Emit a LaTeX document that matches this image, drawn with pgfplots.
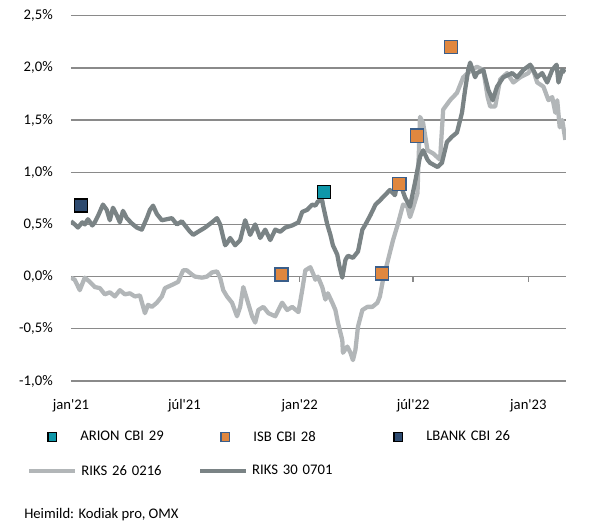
\documentclass[border=0pt]{standalone}
\usepackage{pgfplots}
\pgfplotsset{compat=1.18}
\usepackage{fontspec}
\setmainfont{Carlito}[Ligatures=TeXReset]
\definecolor{lightline}{HTML}{B2B6B8}
\definecolor{darkline}{HTML}{7A8385}
\definecolor{arion}{HTML}{0E97A9}
\definecolor{isb}{HTML}{E0873F}
\definecolor{isbedge}{HTML}{3A5E8A}
\definecolor{lbank}{HTML}{2E4B70}
\definecolor{gridc}{HTML}{8A8A8A}

\pgfplotstableread{
day val
0 -0.01
6 -0.03
14 -0.13
22 -0.01
30 -0.05
38 -0.10
46 -0.11
54 -0.17
62 -0.15
70 -0.19
78 -0.13
86 -0.17
94 -0.16
102 -0.19
110 -0.18
118 -0.35
123 -0.27
129 -0.29
137 -0.25
145 -0.19
150 -0.11
161 -0.08
171 -0.05
179 0.06
185 0.06
193 0.02
198 0.00
209 -0.01
217 0.00
225 0.04
233 0.05
238 -0.01
243 -0.13
249 -0.19
257 -0.25
265 -0.38
270 -0.29
275 -0.10
281 -0.22
289 -0.38
294 -0.44
299 -0.32
307 -0.29
315 -0.35
326 -0.38
337 -0.25
345 -0.32
353 -0.29
363 -0.34
369 -0.13
374 0.06
382 0.09
387 0.02
390 -0.03
394 0.00
401 -0.10
406 -0.22
410 -0.16
417 -0.25
422 -0.32
426 -0.44
433 -0.61
434 -0.73
441 -0.67
446 -0.73
450 -0.80
454 -0.70
458 -0.48
465 -0.32
473 -0.29
481 -0.29
489 -0.25
493 -0.19
498 -0.03
506 0.16
514 0.35
522 0.51
530 0.69
537 0.67
541 0.57
546 0.66
553 0.80
557 1.53
562 1.47
569 1.21
578 1.18
589 1.12
594 1.60
605 1.69
616 1.76
626 1.91
637 1.97
648 2.01
658 1.98
665 1.72
669 1.63
677 1.63
685 1.89
696 1.95
706 1.86
717 1.91
730 1.95
736 2.01
744 1.86
754 1.82
762 1.69
768 1.72
773 1.57
776 1.69
780 1.43
784 1.50
789 1.31
}\rikstwentysix

\pgfplotstableread{
day val
0 0.53
6 0.50
11 0.47
18 0.52
22 0.50
27 0.55
34 0.49
38 0.52
43 0.58
51 0.69
57 0.64
62 0.54
67 0.66
73 0.59
78 0.52
83 0.63
89 0.56
97 0.51
105 0.47
113 0.45
121 0.56
126 0.64
131 0.68
137 0.60
145 0.54
153 0.55
161 0.56
169 0.50
177 0.53
182 0.49
190 0.43
195 0.40
203 0.43
214 0.47
225 0.52
233 0.56
238 0.50
246 0.30
249 0.32
254 0.37
262 0.30
270 0.35
278 0.54
286 0.40
294 0.50
302 0.37
310 0.45
318 0.35
326 0.45
334 0.43
342 0.47
353 0.49
363 0.52
369 0.62
377 0.64
385 0.69
390 0.68
394 0.72
401 0.73
402 0.69
409 0.50
414 0.40
418 0.30
425 0.21
428 0.11
433 -0.01
438 0.16
442 0.20
450 0.18
458 0.24
465 0.45
470 0.50
478 0.59
486 0.69
493 0.73
501 0.78
509 0.83
517 0.78
522 0.93
529 0.83
533 0.76
541 0.67
549 0.90
557 1.15
562 1.21
569 1.12
573 1.09
585 1.05
592 1.09
600 1.29
608 1.34
616 1.38
624 1.57
629 1.79
634 1.98
637 2.05
645 1.91
648 1.95
658 1.98
666 1.79
673 1.69
680 1.82
690 1.91
704 1.95
712 1.91
722 1.98
733 2.03
744 1.91
752 1.95
760 1.86
768 1.98
775 2.03
778 1.86
784 1.98
789 1.96
}\riksthirty

\begin{document}
\begin{tikzpicture}[font=\fontsize{11}{13.2}\selectfont]
\path[use as bounding box] (0,0) rectangle (442.5pt,395.25pt);
\pgfplotsset{base/.style={
  at={(53.25pt,109.5pt)}, anchor=south west,
  scale only axis, width=371.25pt, height=274pt,
  xmin=0, xmax=790, ymin=-1, ymax=2.5,
}}
\begin{axis}[base,
  axis line style={draw=none},
  major tick length=0pt,
  xtick={0,181,365,546,730},
  xticklabels={jan'21,júl'21,jan'22,júl'22,jan'23},
  ytick={-1,-0.5,0,0.5,1,1.5,2,2.5},
  yticklabels={{-1,0\%},{-0,5\%},{0,0\%},{0,5\%},{1,0\%},{1,5\%},{2,0\%},{2,5\%}},
  ymajorgrids, major grid style={gridc, line width=1pt},
  xticklabel style={inner sep=0pt, anchor=north, yshift=-13.5pt},
  yticklabel style={inner sep=0pt, anchor=east, xshift=-13.5pt},
  legend columns=2,
  legend style={draw=none, fill=none, at={(-0.0889,-0.2470)}, anchor=west, inner sep=0pt,
    column sep=0pt, nodes={inner sep=0pt, text width=87.5pt, align=left}},
  legend image code/.code={\draw[#1] (0pt,0pt) -- (34.5pt,0pt); \path[draw=none,fill=none] (0pt,0pt) -- (39pt,0pt);},
]
\draw[gridc, line width=1pt] (axis cs:365,0) -- ++(0pt,-3.75pt);
\draw[gridc, line width=1pt] (axis cs:546,0) -- ++(0pt,-3.75pt);
\draw[gridc, line width=1pt] (axis cs:730,0) -- ++(0pt,-3.75pt);
\addplot[lightline, line width=3.2pt, line join=round] table[x=day,y=val] {\rikstwentysix};
\addlegendentry{RIKS 26 0216}
\addplot[darkline, line width=3.2pt, line join=round] table[x=day,y=val] {\riksthirty};
\addlegendentry{RIKS 30 0701}
\end{axis}
\begin{axis}[base, hide axis,
  legend columns=3,
  legend style={draw=none, fill=none, at={(-0.0485,-0.1533)}, anchor=west, inner sep=0pt,
    column sep=0pt, nodes={inner sep=0pt, text width=104.95pt, align=left}},
  legend image code/.code={\draw[#1, mark size=3.3pt] plot coordinates {(0pt,0pt)}; \path[draw=none,fill=none] (-3.8pt,0pt) -- (21pt,0pt);},
]
\addplot[only marks, mark=square*, mark size=4.9pt, mark options={fill=arion, draw=black, line width=1pt}] coordinates {(404,0.81)};
\addlegendentry{ARION CBI 29}
\addplot[only marks, mark=square*, mark size=4.9pt, mark options={fill=isb, draw=isbedge, line width=1pt}] coordinates {(336,0.02) (496,0.03) (524,0.89) (552,1.35) (606,2.20)};
\addlegendentry{ISB CBI 28}
\addplot[only marks, mark=square*, mark size=4.9pt, mark options={fill=lbank, draw=black, line width=1pt}] coordinates {(16,0.68)};
\addlegendentry{LBANK CBI 26}
\end{axis}
\node[anchor=west, inner sep=0pt] at (18pt,9pt) {Heimild: Kodiak pro, OMX};
\end{tikzpicture}
\end{document}
